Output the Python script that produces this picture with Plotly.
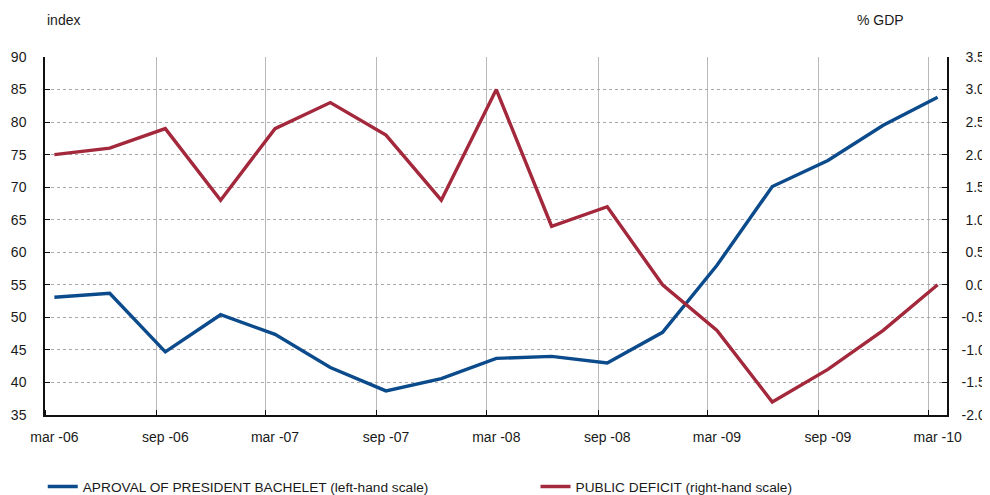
import plotly.graph_objects as go
import pandas as pd

# Quarterly observations (month of observation)
months = ["2006-03", "2006-06", "2006-09", "2006-12",
          "2007-03", "2007-06", "2007-09", "2007-12",
          "2008-03", "2008-06", "2008-09", "2008-12",
          "2009-03", "2009-06", "2009-09", "2009-12",
          "2010-03"]

approval = [53.1, 53.7, 44.7, 50.4, 47.4, 42.3, 38.7, 40.6,
            43.7, 44.0, 43.0, 47.7, 58.0, 70.1, 74.1, 79.5, 83.8]

deficit = [2.0, 2.1, 2.4, 1.3, 2.4, 2.8, 2.3, 1.3,
           3.0, 0.9, 1.2, 0.0, -0.7, -1.8, -1.3, -0.7, 0.0]

tick_months = ["2006-03", "2006-09", "2007-03", "2007-09", "2008-03",
               "2008-09", "2009-03", "2009-09", "2010-03"]
tick_labels = ["mar -06", "sep -06", "mar -07", "sep -07", "mar -08",
               "sep -08", "mar -09", "sep -09", "mar -10"]

left_ticks = list(range(35, 91, 5))
right_ticks = [-2.0, -1.5, -1.0, -0.5, 0.0, 0.5, 1.0, 1.5, 2.0, 2.5, 3.0, 3.5]
right_labels = [("-%.1f" % abs(v)) if v < 0 else ("\u00a0%.1f" % v) for v in right_ticks]

BLUE = "#0b4a8b"
RED = "#a3283b"
FONT = "Liberation Sans, Arial, sans-serif"
FS = 14
LFS = 13.7
TXT = "#1a1a1a"

# label positions at the middle of the labelled month
def mid_month(m):
    start = pd.Timestamp(m + "-01")
    end = start + pd.offsets.MonthBegin(1)
    return start + (end - start) / 2

tick_vals = [mid_month(m) for m in tick_months]

fig = go.Figure()
fig.add_trace(go.Scatter(
    x=months, y=approval, mode="lines", name="APROVAL OF PRESIDENT BACHELET (left-hand scale)",
    line=dict(color=BLUE, width=3.4), xperiod="M1", xperiodalignment="middle",
    yaxis="y", legend="legend"))
fig.add_trace(go.Scatter(
    x=months, y=deficit, mode="lines", name="PUBLIC DEFICIT (right-hand scale)",
    line=dict(color=RED, width=3.4), xperiod="M1", xperiodalignment="middle",
    yaxis="y2", legend="legend2"))

leg_common = dict(orientation="h", y=-0.2, yanchor="middle", xanchor="left",
                  font=dict(family=FONT, size=LFS, color=TXT), bgcolor="rgba(0,0,0,0)",
                  borderwidth=0)

# the page places the figure 8px from the top-left corner of the window
fig.update_layout(
    width=982, height=487,
    margin=dict(l=37, r=43, t=49, b=80, autoexpand=False),
    paper_bgcolor="white", plot_bgcolor="white",
    font=dict(family=FONT, size=FS, color=TXT),
    showlegend=True,
    legend=dict(x=-0.0025, **leg_common),
    legend2=dict(x=0.5438, **leg_common),
    xaxis=dict(
        type="date", range=["2006-03-01", "2010-04-01"],
        tickmode="array", tickvals=tick_vals, ticktext=tick_labels,
        ticks="", showgrid=False, ticklabelstandoff=8,
        showline=True, linecolor="#111111", linewidth=1.5,
        minor=dict(tick0="2006-03-01", dtick="M6", showgrid=True, gridcolor="#b8b8b8",
                   gridwidth=1, ticks="inside", ticklen=5, tickcolor="#111111", tickwidth=1.2),
        zeroline=False, tickfont=dict(size=FS)),
    yaxis=dict(
        range=[35, 90], tickmode="array", tickvals=left_ticks,
        ticks="inside", ticklen=5, tickcolor="#111111", tickwidth=1.2,
        showline=True, linecolor="#111111", linewidth=1.5,
        showgrid=True, gridcolor="#a8a8a8", griddash="dot", gridwidth=1,
        zeroline=False, ticklabelstandoff=14, tickfont=dict(size=FS)),
    yaxis2=dict(
        range=[-2.0, 3.5], overlaying="y", side="right", tickmode="array",
        tickvals=right_ticks, ticktext=right_labels,
        ticks="inside", ticklen=5, tickcolor="#111111", tickwidth=1.2,
        showline=True, linecolor="#111111", linewidth=1.5,
        showgrid=False, zeroline=False, ticklabelstandoff=10, tickfont=dict(size=FS)),
)

fig.add_annotation(text="index", xref="paper", yref="paper", x=0.0, y=1.103,
                   xanchor="left", yanchor="middle", showarrow=False,
                   font=dict(family=FONT, size=FS, color=TXT))
fig.add_annotation(text="% GDP", xref="paper", yref="paper", x=0.898, y=1.103,
                   xanchor="left", yanchor="middle", showarrow=False,
                   font=dict(family=FONT, size=FS, color=TXT))

fig.write_html("out.html")
